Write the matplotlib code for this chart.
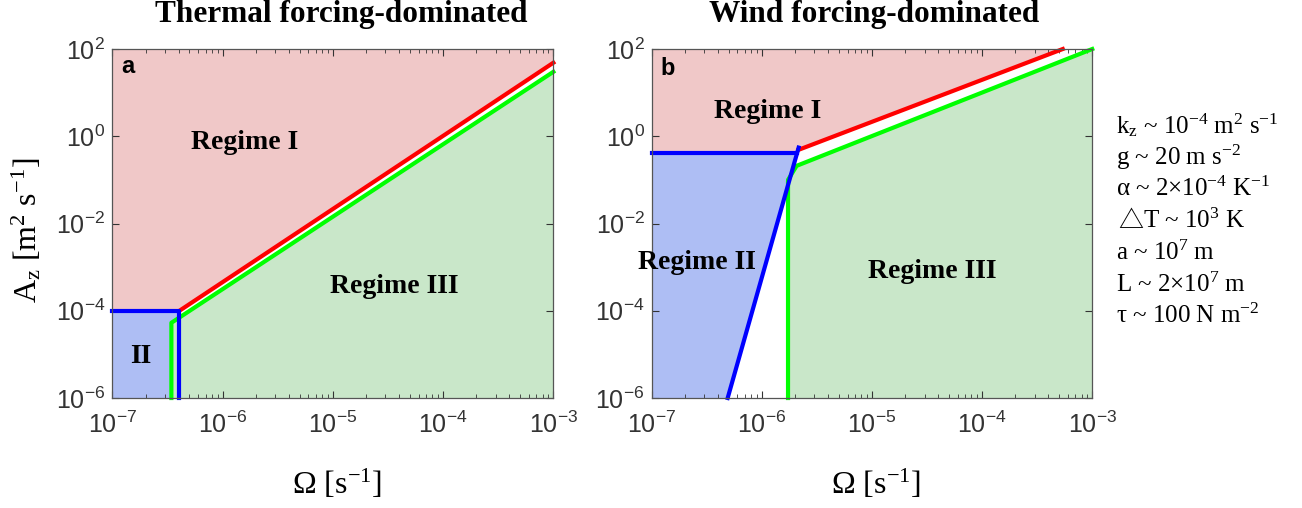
import matplotlib.pyplot as plt
from matplotlib.ticker import LogLocator, NullLocator, NullFormatter

plt.rcParams['font.family'] = ['Liberation Sans', 'DejaVu Sans']
plt.rcParams['mathtext.default'] = 'regular'

XMIN, XMAX = 1e-7, 1e-3
YMIN, YMAX = 1e-6, 1e2

# regime boundaries, panel a (thermal forcing-dominated)
a_blue_x = [1e-7, 4.06e-7, 4.06e-7]
a_blue_y = [1e-4, 1e-4, 1e-6]
a_red_x = [4.06e-7, 1e-3]
a_red_y = [1e-4, 48.5]
a_green_x = [3.43e-7, 3.43e-7, 1e-3]
a_green_y = [1e-6, 5.3e-5, 30]

# regime boundaries, panel b (wind forcing-dominated)
b_blue_h_x = [1e-7, 2.07e-6]
b_blue_h_y = [0.41, 0.41]
b_blue_d_x = [4.9e-7, 2.16e-6]
b_blue_d_y = [1e-6, 0.55]
b_red_x = [2.16e-6, 5.4e-4]
b_red_y = [0.49, 100]
b_green_x = [1.73e-6, 1.73e-6, 2.07e-6, 1e-3]
b_green_y = [1e-6, 0.1, 0.21, 100]

params = [
    'k$_{z}$ ~ 10$^{-4}$ m$^{2}$ s$^{-1}$',
    'g ~ 20 m s$^{-2}$',
    'α ~ 2×10$^{-4}$ K$^{-1}$',
    'T ~ 10$^{3}$ K',
    'a ~ 10$^{7}$ m',
    'L ~ 2×10$^{7}$ m',
    'τ ~ 100 N m$^{-2}$',
]

PINK = '#F0C8C8'
BLUE = '#AEBEF4'
GREEN = '#C9E7C9'
SERIF = 'Liberation Serif'
TICK = '#333333'

fig = plt.figure(figsize=(13.02, 5.08), dpi=100)
ax_a = fig.add_axes([0.0863, 0.2165, 0.3387, 0.687])
ax_b = fig.add_axes([0.5005, 0.2165, 0.3384, 0.687])


def style(ax):
    ax.set_xscale('log')
    ax.set_yscale('log')
    ax.set_xlim(XMIN, XMAX)
    ax.set_ylim(YMIN, YMAX)
    ax.xaxis.set_major_locator(LogLocator(base=10, numticks=10))
    ax.xaxis.set_minor_locator(LogLocator(base=10, subs=range(2, 10), numticks=20))
    ax.xaxis.set_minor_formatter(NullFormatter())
    ax.yaxis.set_major_locator(LogLocator(base=100, numticks=10))
    ax.yaxis.set_minor_locator(NullLocator())
    ax.tick_params(which='both', direction='in', top=True, right=True,
                   colors=TICK, labelsize=18)
    ax.tick_params(which='major', length=5, width=0.8)
    ax.tick_params(which='minor', length=3, width=0.6)
    ax.tick_params(axis='x', pad=10)
    ax.tick_params(axis='y', pad=5)
    for s in ax.spines.values():
        s.set_color('#555555')
        s.set_linewidth(0.9)
    ax.text(0.51, -0.247, 'Ω [s$^{-1}$]', transform=ax.transAxes,
            ha='center', va='center', fontsize=23, family=SERIF)


# panel a
style(ax_a)
ax_a.fill([XMIN, XMIN, a_red_x[0], a_red_x[1], XMAX],
          [YMAX, a_blue_y[0], a_red_y[0], a_red_y[1], YMAX], color=PINK, lw=0)
ax_a.fill([XMIN, XMIN, a_blue_x[1], a_blue_x[2]],
          [YMIN, a_blue_y[0], a_blue_y[1], a_blue_y[2]], color=BLUE, lw=0)
ax_a.fill(a_green_x + [XMAX], a_green_y + [YMIN], color=GREEN, lw=0)
ax_a.plot(a_red_x, a_red_y, color='#FF0000', lw=3, clip_on=False)
ax_a.plot(a_green_x, a_green_y, color='#00FF00', lw=3, clip_on=False)
ax_a.plot(a_blue_x, a_blue_y, color='#0000FF', lw=3, clip_on=False)

ax_a.text(0.301, 0.731, 'Regime I', transform=ax_a.transAxes, ha='center',
          va='center', fontsize=20, fontweight='bold', family=SERIF)
ax_a.text(0.640, 0.319, 'Regime III', transform=ax_a.transAxes, ha='center',
          va='center', fontsize=20, fontweight='bold', family=SERIF)
ax_a.text(0.065, 0.120, 'II', transform=ax_a.transAxes, ha='center',
          va='center', fontsize=20, fontweight='bold', family=SERIF)
ax_a.text(0.036, 0.949, 'a', transform=ax_a.transAxes, ha='center',
          va='center', fontsize=17, fontweight='bold')
ax_a.text(0.519, 1.077, 'Thermal forcing-dominated', transform=ax_a.transAxes,
          ha='center', va='baseline', fontsize=22.5, fontweight='bold', family=SERIF)
fig.text(27 / 1302, 1 - 230 / 508, 'A$_{z}$ [m$^{2}$ s$^{-1}$]', rotation=90,
         ha='center', va='center', fontsize=23, family=SERIF)

# panel b
style(ax_b)
ax_b.fill([XMIN, XMIN, b_blue_h_x[1], b_red_x[0], b_red_x[1]],
          [YMAX, b_blue_h_y[0], b_blue_h_y[1], b_red_y[0], b_red_y[1]], color=PINK, lw=0)
ax_b.fill([XMIN, XMIN, b_blue_h_x[1], b_blue_d_x[0]],
          [YMIN, b_blue_h_y[0], b_blue_h_y[1], b_blue_d_y[0]], color=BLUE, lw=0)
ax_b.fill(b_green_x + [XMAX], b_green_y + [YMIN], color=GREEN, lw=0)
ax_b.plot(b_red_x, b_red_y, color='#FF0000', lw=3, clip_on=False)
ax_b.plot(b_green_x, b_green_y, color='#00FF00', lw=3, clip_on=False)
ax_b.plot(b_blue_h_x, b_blue_h_y, color='#0000FF', lw=3, clip_on=False)
ax_b.plot(b_blue_d_x, b_blue_d_y, color='#0000FF', lw=3, clip_on=False)

ax_b.text(0.263, 0.820, 'Regime I', transform=ax_b.transAxes, ha='center',
          va='center', fontsize=20, fontweight='bold', family=SERIF)
ax_b.text(0.102, 0.387, 'Regime II', transform=ax_b.transAxes, ha='center',
          va='center', fontsize=20, fontweight='bold', family=SERIF)
ax_b.text(0.636, 0.362, 'Regime III', transform=ax_b.transAxes, ha='center',
          va='center', fontsize=20, fontweight='bold', family=SERIF)
ax_b.text(0.037, 0.943, 'b', transform=ax_b.transAxes, ha='center',
          va='center', fontsize=17, fontweight='bold')
ax_b.text(0.505, 1.077, 'Wind forcing-dominated', transform=ax_b.transAxes,
          ha='center', va='baseline', fontsize=22.5, fontweight='bold', family=SERIF)

# parameter list (the triangle of the temperature line needs another font)
for i, p in enumerate(params):
    x0 = 1116
    if i == 3:
        fig.text(1118 / 1302, 1 - (133 + 31.7 * i) / 508, '\u25b3', ha='left',
                 va='baseline', fontsize=18,
                 family=['Noto Sans CJK SC', 'DejaVu Sans'])
        x0 = 1143
    fig.text(x0 / 1302, 1 - (133 + 31.7 * i) / 508, p, ha='left',
             va='baseline', fontsize=18, family=SERIF)

fig.savefig('out.png', dpi=100)
